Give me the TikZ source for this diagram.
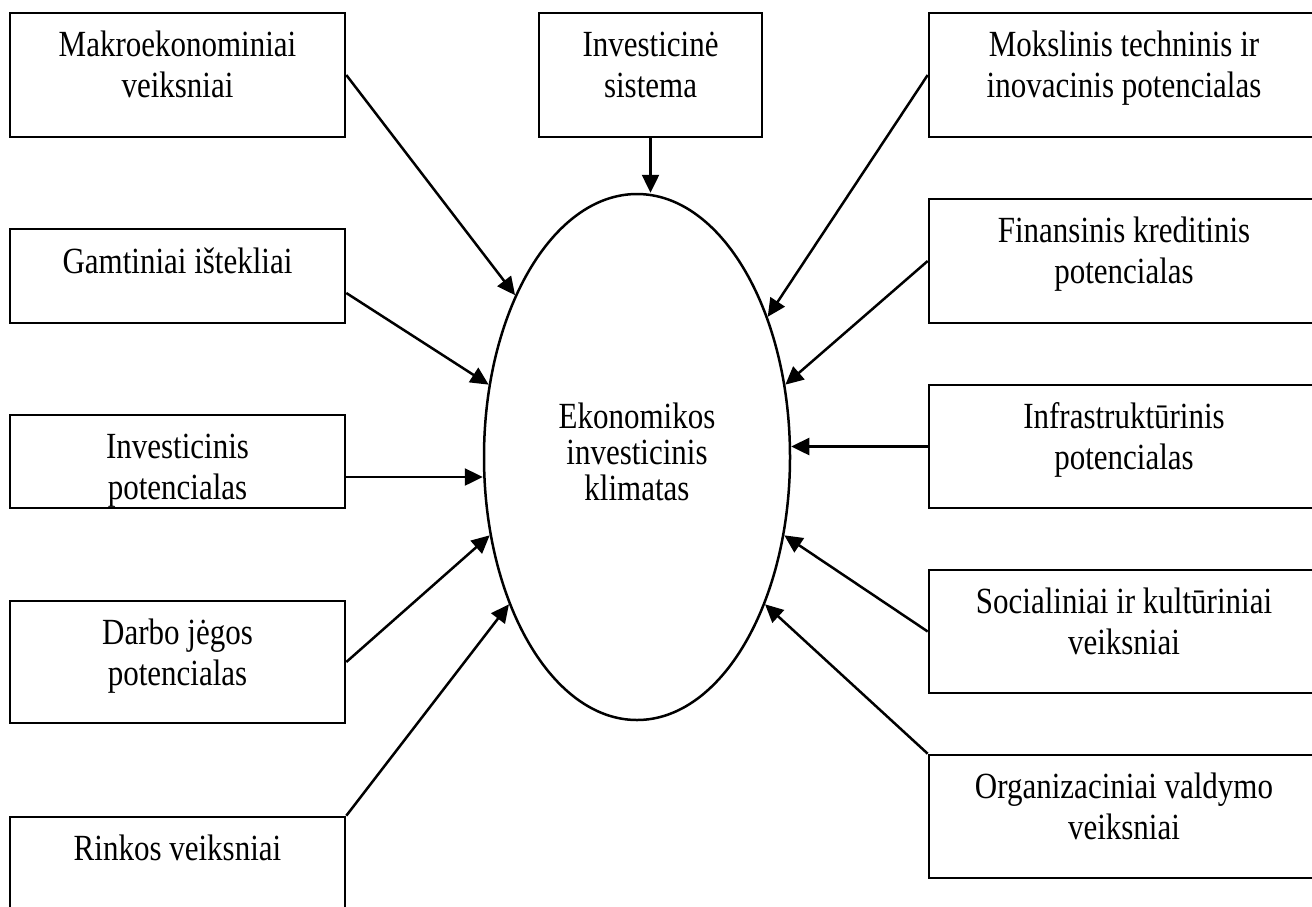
\documentclass[tikz,border=0pt]{standalone}
\usepackage{fontspec}
\setmainfont{Liberation Serif}
\usepackage{graphicx}
\usetikzlibrary{arrows.meta,shapes.geometric,calc}
\newcommand{\btxt}[1]{\scalebox{1}[1.19]{\begin{tabular}[t]{@{}c@{}}#1\end{tabular}}}
\newcommand{\ctxt}[1]{\scalebox{1}[1.19]{\begin{tabular}{@{}c@{}}#1\end{tabular}}}
\begin{document}
\begin{tikzpicture}[x=1pt,y=-1pt,
  box/.style={draw, line width=2.6pt, inner sep=0pt, rectangle},
  lbox/.style={box, minimum width=335pt},
  rbox/.style={box, minimum width=390pt},
  lbl/.style={anchor=base, inner sep=0pt, font=\fontsize{31}{34.5}\selectfont},
  arr/.style={-{Triangle[length=18pt,width=17pt]}, line width=2.5pt},
  ell/.style={draw, ellipse, line width=2.5pt, inner sep=0pt, minimum width=306pt, minimum height=526pt, font=\fontsize{31}{30.3}\selectfont}
]
\useasboundingbox (0,0) rectangle (1312,906);
\clip (0,0) rectangle (1312,906);
\fill[white] (0,0) rectangle (1312,906);

% left boxes
\node[lbox, minimum height=124pt] (mk) at (177.5,75) {};
\node[lbox, minimum height=94pt] (gt) at (177.5,276) {};
\node[lbox, minimum height=93pt] (ip) at (177.5,461.5) {};
\node[lbox, minimum height=122pt] (dj) at (177.5,662) {};
\node[lbox, minimum height=124pt] (rk) at (177.5,879) {};
% right boxes
\node[rbox, minimum height=124pt] (mo) at (1124,75) {};
\node[rbox, minimum height=124pt] (fi) at (1124,261) {};
\node[rbox, minimum height=123pt] (in) at (1124,446.5) {};
\node[rbox, minimum height=123pt] (so) at (1124,631.5) {};
\node[rbox, minimum height=123pt] (or) at (1124,816.5) {};
% centre box
\node[box, minimum width=223pt, minimum height=124pt] (is) at (650.5,75) {};

% labels
\node[lbl] (mkt) at ($(mk.north)+(0,45)$) {\btxt{Makroekonominiai\\veiksniai}};
\node[lbl] (gtt) at ($(gt.north)+(0,46)$) {\btxt{Gamtiniai ištekliai}};
\node[lbl] (ipt) at ($(ip.north)+(0,45)$) {\btxt{Investicinis\\potencialas}};
\node[lbl] (djt) at ($(dj.north)+(0,45)$) {\btxt{Darbo jėgos\\potencialas}};
\node[lbl] (rkt) at ($(rk.north)+(0,45)$) {\btxt{Rinkos veiksniai}};
\node[lbl] (mot) at ($(mo.north)+(0,45)$) {\btxt{Mokslinis techninis ir\\inovacinis potencialas}};
\node[lbl] (fit) at ($(fi.north)+(0,45)$) {\btxt{Finansinis kreditinis\\potencialas}};
\node[lbl] (int) at ($(in.north)+(0,45)$) {\btxt{Infrastruktūrinis\\potencialas}};
\node[lbl] (sot) at ($(so.north)+(0,45)$) {\btxt{Socialiniai ir kultūriniai\\veiksniai}};
\node[lbl] (ort) at ($(or.north)+(0,45)$) {\btxt{Organizaciniai valdymo\\veiksniai}};
\node[lbl] (ist) at ($(is.north)+(0,45)$) {\btxt{Investicinė\\sistema}};

% ellipse
\node[ell] (ek) at (637,457) {\ctxt{Ekonomikos\\investicinis\\klimatas}};

% connectors
\coordinate (ipa) at ($(ip.east)+(0,15.5)$);
\draw[arr] (mk.east) -- (ek.127);
\draw[arr] ($(gt.east)+(0,17)$) -- (ek.154);
\draw[arr] (ipa) -- (ipa -| ek.west);
\draw[arr] (dj.east) -- (ek.208);
\draw[arr] (rk.north east) -- (ek.229);
\draw[arr] (is.south) -- (is.south |- ek.north);
\draw[arr] (mo.west) -- (ek.47);
\draw[arr] (fi.west) -- (ek.26);
\draw[arr] (in.west) -- (in.west -| ek.east);
\draw[arr] (so.west) -- (ek.332);
\draw[arr] (or.north west) -- (ek.311);
\end{tikzpicture}
\end{document}
